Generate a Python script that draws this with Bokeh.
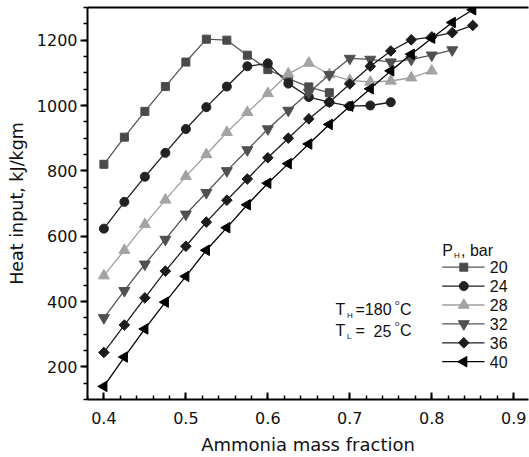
import numpy as np
from bokeh.plotting import figure
from bokeh.models import Range1d, LinearAxis, SingleIntervalTicker, FixedTicker, Label
from bokeh.embed import file_html
from bokeh.resources import INLINE

# ---------------- data ----------------
x_frac = [0.400, 0.425, 0.450, 0.475, 0.500, 0.525, 0.550, 0.575, 0.600, 0.625,
          0.650, 0.675, 0.700, 0.725, 0.750, 0.775, 0.800, 0.825, 0.850]

q_20 = [820, 903, 982, 1058, 1133, 1203, 1200, 1154, 1110, 1082, 1057, 1039]
q_24 = [623, 705, 782, 855, 928, 995, 1058, 1120, 1129, 1067, 1026, 1010, 998, 1000, 1010]
q_28 = [479, 557, 636, 711, 783, 850, 918, 979, 1037, 1097, 1130, 1095, 1077, 1072, 1075, 1085, 1106]
q_32 = [350, 433, 514, 590, 667, 733, 800, 864, 928, 985, 1040, 1094, 1144, 1141, 1133, 1141, 1154, 1170]
q_36 = [244, 328, 411, 493, 569, 643, 710, 775, 840, 900, 959, 1010, 1066, 1120, 1167, 1201, 1210, 1223, 1245]
q_40 = [140, 230, 316, 398, 477, 557, 626, 696, 762, 822, 882, 942, 998, 1051, 1106, 1157, 1206, 1254, 1293]

pressures = ["20", "24", "28", "32", "36", "40"]
series = [q_20, q_24, q_28, q_32, q_36, q_40]

x_ticks_interval = 0.1
y_ticks_interval = 200

# ---------------- styles ----------------
markers = ["square", "circle", "triangle", "inverted_triangle", "square", "triangle"]
angles = [0, 0, 0, 0, np.pi / 4, np.pi / 2]
sizes = [8, 9, 11, 11, 7.5, 10.5]
fill_cols = ["#4a4a4a", "#222222", "#a3a3a3", "#505050", "#1c1c1c", "#000000"]
line_cols = ["#555555", "#1e1e1e", "#9e9e9e", "#555555", "#1e1e1e", "#000000"]

FONT_AX = "DejaVu Sans"
FONT_TX = "Liberation Sans"

FW, FH = 441, 392

p = figure(width=529, height=457, output_backend="svg", toolbar_location=None,
           x_range=Range1d(0.38, 0.918), y_range=Range1d(100, 1300),
           min_border_left=87, min_border_right=1, min_border_top=7, min_border_bottom=58,
           background_fill_color="white", border_fill_color="white",
           outline_line_color=None)
p.xgrid.visible = False
p.ygrid.visible = False

# x axis
xa = p.xaxis[0]
xa.ticker = SingleIntervalTicker(interval=x_ticks_interval, num_minor_ticks=5)
xa.axis_label = "Ammonia mass fraction"
xa.axis_label_text_font = FONT_AX
xa.axis_label_text_font_size = "18px"
xa.axis_label_text_font_style = "normal"
xa.axis_label_text_color = "#111111"
xa.axis_label_standoff = 7
xa.major_label_text_font = FONT_AX
xa.major_label_text_font_size = "16px"
xa.major_label_text_color = "#111111"
xa.major_label_standoff = 12
xa.axis_line_width = 2
xa.axis_line_color = "black"
xa.major_tick_in = 7
xa.major_tick_out = 0
xa.minor_tick_in = 4
xa.minor_tick_out = 0
xa.major_tick_line_width = 2
xa.minor_tick_line_width = 1.5

# y axis
ya = p.yaxis[0]
ya.ticker = SingleIntervalTicker(interval=y_ticks_interval, num_minor_ticks=4)
ya.axis_label = "Heat input, kJ/kgm"
ya.axis_label_text_font = FONT_AX
ya.axis_label_text_font_size = "17.5px"
ya.axis_label_text_font_style = "normal"
ya.axis_label_text_color = "#111111"
ya.axis_label_standoff = 7
ya.major_label_text_font = FONT_AX
ya.major_label_text_font_size = "16px"
ya.major_label_text_color = "#111111"
ya.major_label_standoff = 3
ya.axis_line_width = 2
ya.axis_line_color = "black"
ya.major_tick_in = 0
ya.major_tick_out = 7
ya.minor_tick_in = 0
ya.minor_tick_out = 4
ya.major_tick_line_width = 2
ya.minor_tick_line_width = 1.5

# top frame line
top_ax = LinearAxis(ticker=FixedTicker(ticks=[]), axis_line_width=2, axis_line_color="black",
                    major_label_text_font_size="0px", major_tick_line_color=None,
                    minor_tick_line_color=None)
p.add_layout(top_ax, "above")

# ---------------- series ----------------
for q, mk, ang, sz, fc, lc in zip(series, markers, angles, sizes, fill_cols, line_cols):
    xs = x_frac[:len(q)]
    p.line(xs, q, line_color=lc, line_width=1.3)
    p.scatter(xs, q, marker=mk, angle=ang, size=sz, fill_color=fc, line_color=fc)

# ---------------- legend (drawn in frame pixel space) ----------------
p.extra_x_ranges = {"px": Range1d(0, FW)}
p.extra_y_ranges = {"py": Range1d(0, FH)}

leg_x0, leg_x1, leg_xm, leg_xt = 354.7, 397.0, 376.3, 402.3
leg_rows = [132.3, 113.4, 94.5, 75.6, 56.7, 37.8]

for row, lab, mk, ang, sz, fc, lc in zip(leg_rows, pressures, markers, angles, sizes, fill_cols, line_cols):
    p.segment(x0=[leg_x0], y0=[row], x1=[leg_x1], y1=[row], line_color=lc, line_width=1.3,
              x_range_name="px", y_range_name="py")
    p.scatter([leg_xm], [row], marker=mk, angle=ang, size=sz, fill_color=fc, line_color=fc,
              x_range_name="px", y_range_name="py")
    p.add_layout(Label(x=leg_xt, y=row, text=lab, x_range_name="px", y_range_name="py",
                       text_font=FONT_TX, text_font_size="16px", text_baseline="middle",
                       text_color="#111111"))


def add_txt(x, y, t, size="16px"):
    p.add_layout(Label(x=x, y=y, text=t, x_range_name="px", y_range_name="py",
                       text_font=FONT_TX, text_font_size=size, text_baseline="alphabetic",
                       text_color="#111111"))


# legend header  P_H, bar
add_txt(354.7, 149, "P")
add_txt(366.5, 144, "H", "8px")
add_txt(373.5, 149, ", bar")

# temperature annotations
add_txt(248, 90, "T")
add_txt(259.5, 84.5, "H", "8px")
add_txt(268, 90, "=180")
add_txt(307.5, 97, "o", "8px")
add_txt(312.5, 90, "C")

add_txt(248, 69, "T")
add_txt(259.5, 63.5, "L", "8px")
add_txt(268, 69, "=")
add_txt(286, 69, "25")
add_txt(307.5, 76, "o", "8px")
add_txt(312.5, 69, "C")

open("out.html", "w").write(file_html(p, INLINE))
